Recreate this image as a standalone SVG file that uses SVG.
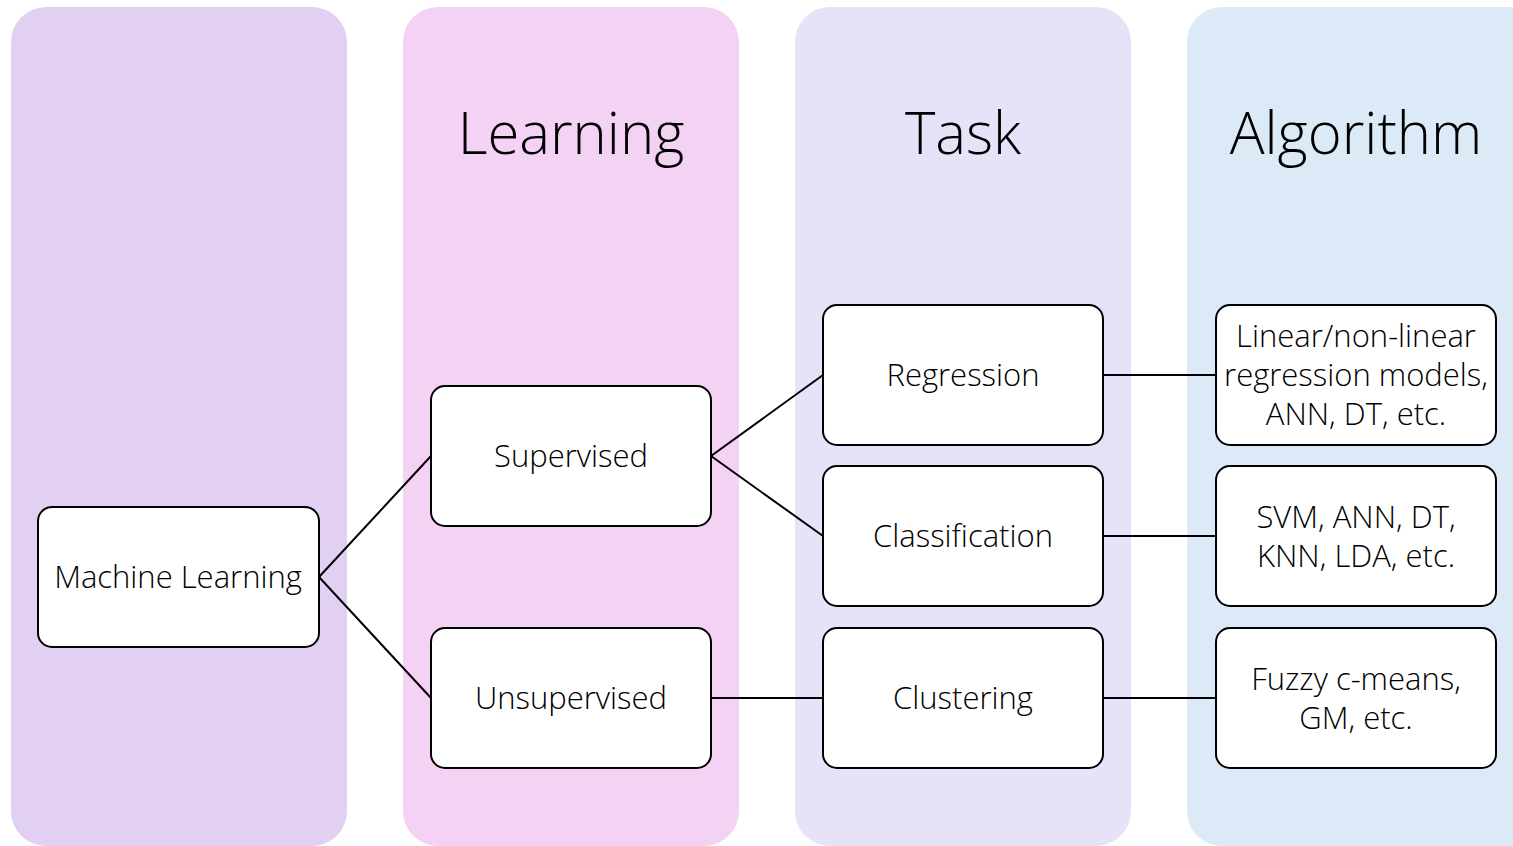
<svg xmlns="http://www.w3.org/2000/svg" width="1513" height="846" viewBox="0 0 1513 846">
<style>
.title{font-family:"Open Sans","Noto Sans",sans-serif;font-weight:300;font-size:58px;fill:#000;text-anchor:middle}
.node rect{fill:#fff;stroke:#000;stroke-width:2}
.node text{font-family:"Open Sans","Noto Sans",sans-serif;font-weight:350;font-size:31px;fill:#000;text-anchor:middle}
.conn line{stroke:#000;stroke-width:2}
</style>
<g id="columns">
<rect x="11" y="7" width="336" height="839" rx="35" fill="#e1d0f1"/>
<rect x="403" y="7" width="336" height="839" rx="35" fill="#f3d2f3"/>
<rect x="795" y="7" width="336" height="839" rx="35" fill="#e6e2f8"/>
<rect x="1187" y="7" width="360" height="839" rx="35" fill="#dbeaf6"/>
</g>
<text class="title" x="571" y="154">Learning</text>
<text class="title" x="963" y="154">Task</text>
<text class="title" x="1356" y="154">Algorithm</text>
<g id="connectors" class="conn">
<line x1="319" y1="577" x2="431" y2="456"/>
<line x1="319" y1="577" x2="431" y2="698"/>
<line x1="711" y1="456" x2="823" y2="375"/>
<line x1="711" y1="456" x2="823" y2="536"/>
<line x1="711" y1="698" x2="823" y2="698"/>
<line x1="1103" y1="375" x2="1216" y2="375"/>
<line x1="1103" y1="536" x2="1216" y2="536"/>
<line x1="1103" y1="698" x2="1216" y2="698"/>
</g>
<g id="n-ml" class="node"><rect x="38" y="507" width="281" height="140" rx="14"/><text x="178" y="588">Machine Learning</text></g>
<g id="n-sup" class="node"><rect x="431" y="386" width="280" height="140" rx="14"/><text x="571" y="467">Supervised</text></g>
<g id="n-unsup" class="node"><rect x="431" y="628" width="280" height="140" rx="14"/><text x="571" y="709">Unsupervised</text></g>
<g id="n-reg" class="node"><rect x="823" y="305" width="280" height="140" rx="14"/><text x="963" y="386">Regression</text></g>
<g id="n-cls" class="node"><rect x="823" y="466" width="280" height="140" rx="14"/><text x="963" y="547">Classification</text></g>
<g id="n-clu" class="node"><rect x="823" y="628" width="280" height="140" rx="14"/><text x="963" y="709">Clustering</text></g>
<g id="n-alg1" class="node"><rect x="1216" y="305" width="280" height="140" rx="14"/><text x="1356" y="347">Linear/non-linear</text><text x="1356" y="386">regression models,</text><text x="1356" y="425">ANN, DT, etc.</text></g>
<g id="n-alg2" class="node"><rect x="1216" y="466" width="280" height="140" rx="14"/><text x="1356" y="528">SVM, ANN, DT,</text><text x="1356" y="567">KNN, LDA, etc.</text></g>
<g id="n-alg3" class="node"><rect x="1216" y="628" width="280" height="140" rx="14"/><text x="1356" y="690">Fuzzy c-means,</text><text x="1356" y="729">GM, etc.</text></g>
</svg>
